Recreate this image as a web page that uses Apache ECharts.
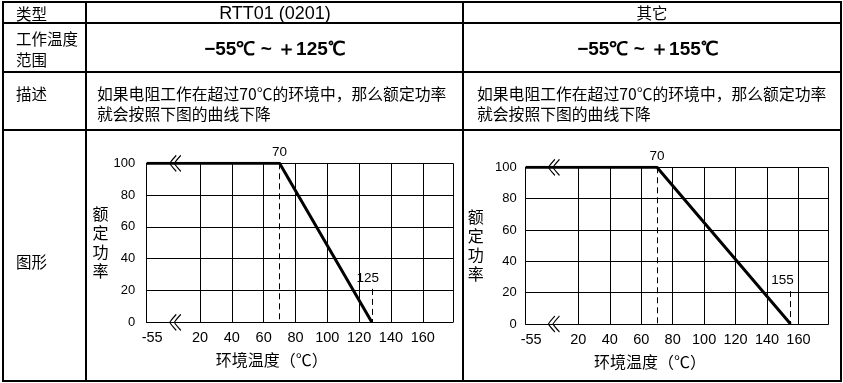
<!DOCTYPE html>
<html><head><meta charset="utf-8">
<script src="https://cdn.jsdelivr.net/npm/echarts@6/dist/echarts.min.js"></script>
<style>html,body{margin:0;padding:0;background:#fff}#c{width:843px;height:383px}</style>
</head><body><div id="c"></div>
<script>
// ---- data ----
const xTickValues = [20, 40, 60, 80, 100, 120, 140, 160];
const yTickValues = [0, 20, 40, 60, 80, 100];
const lowTempLabel = '-55';
const leftTemps = [-55, 70, 128];
const leftPower = [100, 100, 0];
const leftMarkTemps = [70, 128];
const leftMarkLabels = ['70', '125'];
const rightTemps = [-55, 70, 155];
const rightPower = [100, 100, 0];
const rightMarkTemps = [70, 155];
const rightMarkLabels = ['70', '155'];
const rowHeads = ['类型', '工作温度\n范围', '描述', '图形'];
const colTitles = ['RTT01 (0201)', '其它'];
const ranges = ['−55℃ ~ ＋125℃', '−55℃ ~ ＋155℃'];
const descText = '如果电阻工作在超过70℃的环境中，那么额定功率\n就会按照下图的曲线下降';
const xName = '环境温度（℃）';
const yName = '额\n定\n功\n率';

// broken axis: -55 sits at the axis start
const AXIS_MIN = -13.5, AXIS_MAX = 179, BREAK_POS = 4.5, DASH_TOP = 21;
const ax = t => (t <= -55 ? AXIS_MIN : t);

const CJK = '"Noto Sans CJK SC"';
const LAT = '"Liberation Sans", Arial, sans-serif';

function xAxisCfg(gi, nameShift) {
  return {
    gridIndex: gi, type: 'value', min: AXIS_MIN, max: AXIS_MAX,
    axisLine: { show: true, onZero: false, lineStyle: { color: '#000', width: 1 } },
    axisTick: { show: false, customValues: xTickValues.concat([AXIS_MAX]) },
    axisLabel: {
      customValues: [AXIS_MIN].concat(xTickValues),
      formatter: v => (Math.abs(v - AXIS_MIN) < 1e-6 ? '{s|' + lowTempLabel + '}' : String(v)),
      rich: { s: { padding: [0, 0, 0, 11], fontSize: 14.5, color: '#000', fontFamily: LAT } },
      color: '#000', fontSize: 14.5, margin: 8, fontFamily: LAT
    },
    splitLine: { show: true, lineStyle: { color: '#000', width: 1 } },
    name: xName, nameLocation: 'middle', nameGap: 30,
    nameTextStyle: { color: '#000', fontSize: 16, fontFamily: CJK, padding: [0, nameShift, 0, 0] }
  };
}
function yAxisCfg(gi, gap, margin) {
  return {
    gridIndex: gi, type: 'value', min: yTickValues[0], max: yTickValues[yTickValues.length - 1], interval: 20,
    axisLine: { show: true, onZero: false, lineStyle: { color: '#000', width: 1 } },
    axisTick: { show: false },
    axisLabel: { color: '#000', fontSize: 13, margin: margin, fontFamily: LAT },
    splitLine: { show: true, lineStyle: { color: '#000', width: 1 } },
    name: yName, nameLocation: 'middle', nameRotate: 0, nameGap: gap,
    nameTextStyle: { color: '#000', fontSize: 16, lineHeight: 19, fontFamily: CJK }
  };
}
function seriesFor(gi, temps, power, markTemps, markLabels, endOffset) {
  return [
    {
      type: 'line', xAxisIndex: gi, yAxisIndex: gi, symbol: 'none', silent: true,
      data: temps.map((t, i) => [ax(t), power[i]]),
      lineStyle: { color: '#000', width: 3 }, z: 5,
      markLine: {
        silent: true, symbol: 'none', label: { show: false },
        lineStyle: { color: '#000', width: 1, type: [6, 4] },
        data: [
          [{ coord: [markTemps[0], 100] }, { coord: [markTemps[0], 0] }],
          [{ coord: [markTemps[1], DASH_TOP] }, { coord: [markTemps[1], 0] }]
        ]
      }
    },
    {
      type: 'scatter', xAxisIndex: gi, yAxisIndex: gi, symbolSize: 0, silent: true,
      itemStyle: { opacity: 1 },
      data: [[markTemps[0], 100], [markTemps[1], DASH_TOP]],
      label: {
        show: true, position: 'top', distance: 4, color: '#000', fontSize: 13.5, fontFamily: LAT,
        formatter: p => markLabels[p.dataIndex]
      },
      labelLayout: p => (p.dataIndex === 1 ? { dx: endOffset } : {})
    },
    {
      type: 'scatter', xAxisIndex: gi, yAxisIndex: gi, silent: true, z: 6,
      symbol: 'path://M7,0 Q1,6 0,8 Q1,10 7,16 M12,0 Q6,6 5,8 Q6,10 12,16',
      symbolSize: [11, 16], symbolKeepAspect: false,
      itemStyle: { color: 'transparent', borderColor: '#000', borderWidth: 1.2, opacity: 1 },
      data: [[BREAK_POS, 100], [BREAK_POS, 0]]
    }
  ];
}

// ---- table graphic ----
const L = '#000';
const tbl = [];
function hline(y, x1, x2) { tbl.push({ type: 'line', shape: { x1, y1: y, x2, y2: y }, style: { stroke: L, lineWidth: 2 }, silent: true }); }
function vline(x, y1, y2) { tbl.push({ type: 'line', shape: { x1: x, y1, x2: x, y2 }, style: { stroke: L, lineWidth: 2 }, silent: true }); }
[2, 23, 72, 130, 381].forEach(y => hline(y, 2, 842));
[3, 86, 463, 841].forEach(x => vline(x, 2, 381));
function txt(text, x, y, font, align, extra) {
  tbl.push({ type: 'text', silent: true, x, y, style: Object.assign({ text, font, fill: '#000', align: align || 'left', verticalAlign: 'middle' }, extra || {}) });
}
const hf = '15.5px ' + CJK;
txt(rowHeads[0], 16, 14, hf);
txt(rowHeads[1], 16, 50, hf, 'left', { lineHeight: 21 });
txt(rowHeads[2], 16, 94, hf);
txt(rowHeads[3], 16, 262, hf);
txt(colTitles[0], 275, 14, '18px ' + LAT, 'center');
txt(colTitles[1], 652, 13, hf, 'center');
txt(ranges[0], 275, 50, 'bold 19px ' + LAT, 'center');
txt(ranges[1], 648, 50, 'bold 19px ' + LAT, 'center');
txt(descText, 97, 104, '15.8px ' + CJK, 'left', { lineHeight: 20 });
txt(descText, 477, 104, '15.8px ' + CJK, 'left', { lineHeight: 20 });

const chart = echarts.init(document.getElementById('c'), null, { renderer: 'canvas' });
chart.setOption({
  animation: false,
  backgroundColor: '#fff',
  grid: [
    { left: 146.7, top: 163.3, width: 306.3, height: 159, containLabel: false },
    { left: 525.7, top: 167.3, width: 302.6, height: 156.7, containLabel: false }
  ],
  xAxis: [xAxisCfg(0, 56), xAxisCfg(1, 54)],
  yAxis: [yAxisCfg(0, 37, 11.5), yAxisCfg(1, 42, 9)],
  series: seriesFor(0, leftTemps, leftPower, leftMarkTemps, leftMarkLabels, -4)
    .concat(seriesFor(1, rightTemps, rightPower, rightMarkTemps, rightMarkLabels, -8)),
  graphic: tbl
});
</script></body></html>
